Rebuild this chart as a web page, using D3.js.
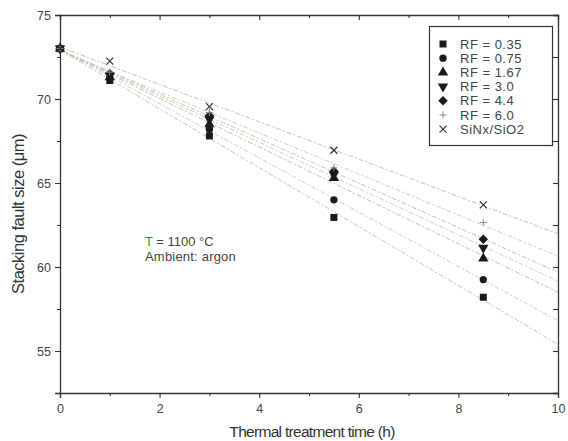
<!DOCTYPE html>
<html>
<head>
<meta charset="utf-8">
<script src="https://cdn.jsdelivr.net/npm/d3@7"></script>
<style>
  html, body { margin: 0; padding: 0; background: #fff; }
  svg { display: block; font-family: "Liberation Sans", Arial, sans-serif; }
</style>
</head>
<body>
<svg id="chart" width="568" height="441"></svg>
<script>
// Treatment times (h)
const times = [0, 1, 3, 5.5, 8.5];

// Stacking fault size (µm) per sample
const seriesNames = ["RF = 0.35", "RF = 0.75", "RF = 1.67", "RF = 3.0", "RF = 4.4", "RF = 6.0", "SiNx/SiO2"];
const rf035 = [73.0, 71.1, 67.8, 62.95, 58.2];
const rf075 = [73.0, 71.25, 68.2, 64.0, 59.25];
const rf167 = [73.0, 71.3, 68.5, 65.3, 60.5];
const rf30  = [73.0, 71.4, 68.8, 65.5, 61.15];
const rf44  = [73.0, 71.5, 69.0, 65.7, 61.65];
const rf60  = [73.0, 71.6, 69.2, 65.9, 62.65];
const sinx  = [73.0, 72.25, 69.55, 66.95, 63.7];

const xTicks = [0, 2, 4, 6, 8, 10];
const xMinor = [1, 3, 5, 7, 9];
const yTicks = [55, 60, 65, 70, 75];
const yMinor = [52.5, 57.5, 62.5, 67.5, 72.5];

const seriesValues = [rf035, rf075, rf167, rf30, rf44, rf60, sinx];
const symbolKinds = ["square", "circle", "triangle", "tridown", "diamond", "plus", "cross"];

const svg = d3.select("#chart");
const plotL = 60, plotR = 558, plotT = 15, plotB = 393;

const x = d3.scaleLinear().domain([0, 10]).range([plotL, plotR]);
const y = d3.scaleLinear().domain([52.5, 75]).range([plotB, plotT]);

const axisColor = "#333";
const textColor = "#444";

// Linear least-squares fit for each series, drawn across the full time range
function fit(ts, vs) {
  const mt = d3.mean(ts), mv = d3.mean(vs);
  let sxy = 0, sxx = 0;
  ts.forEach((t, i) => { sxy += (t - mt) * (vs[i] - mv); sxx += (t - mt) * (t - mt); });
  const b = sxy / sxx;
  return { a: mv - b * mt, b };
}

const fitG = svg.append("g");
seriesValues.forEach((vals, i) => {
  const f = fit(times, vals);
  fitG.append("line")
    .attr("x1", x(0)).attr("y1", y(f.a))
    .attr("x2", x(10)).attr("y2", y(f.a + 10 * f.b))
    .attr("stroke", i % 2 ? "#c4c9a6" : "#b4b8ab")
    .attr("stroke-width", 0.85)
    .attr("stroke-dasharray", "5,2,2,2");
});

// Axes (major + minor ticks on all four sides)
const gx = svg.append("g").attr("transform", `translate(0,${plotB})`)
  .call(d3.axisBottom(x).tickValues(xTicks).tickSize(5).tickPadding(6).tickFormat(d3.format("d")));
gx.append("g").attr("class", "minor").call(d3.axisBottom(x).tickValues(xMinor).tickSize(3).tickFormat(""));

const gy = svg.append("g").attr("transform", `translate(${plotL},0)`)
  .call(d3.axisLeft(y).tickValues(yTicks).tickSize(5).tickPadding(4).tickFormat(d3.format("d")));
gy.append("g").attr("class", "minor").call(d3.axisLeft(y).tickValues(yMinor).tickSize(3).tickFormat(""));

const gt = svg.append("g").attr("transform", `translate(0,${plotT})`)
  .call(d3.axisBottom(x).tickValues(xTicks).tickSize(5).tickFormat(""));
gt.append("g").attr("class", "minor").call(d3.axisBottom(x).tickValues(xMinor).tickSize(3).tickFormat(""));

const gr = svg.append("g").attr("transform", `translate(${plotR},0)`)
  .call(d3.axisLeft(y).tickValues(yTicks).tickSize(5).tickFormat(""));
gr.append("g").attr("class", "minor").call(d3.axisLeft(y).tickValues(yMinor).tickSize(5).tickFormat(""));

svg.selectAll("g.minor path.domain").remove();
[gx, gy, gt, gr].forEach(g => {
  g.selectAll("path.domain").attr("stroke", axisColor).attr("stroke-width", 1.3);
  g.selectAll(".tick line").attr("stroke", axisColor).attr("stroke-width", 1.1);
  g.selectAll(".tick text").attr("fill", textColor).attr("font-size", 12.5)
    .attr("font-family", "Liberation Sans, Arial, sans-serif");
});

// Symbols
function symbolPath(kind, s) {
  switch (kind) {
    case "square": return d3.symbol(d3.symbolSquare, s * s)();
    case "circle": return d3.symbol(d3.symbolCircle, Math.PI * (s / 2) * (s / 2) * 1.1)();
    case "triangle": return d3.symbol(d3.symbolTriangle, s * s * 0.95)();
    case "tridown": return d3.symbol(d3.symbolTriangle, s * s * 0.95)();
    case "diamond": {
      const r = s * 0.68;
      return `M0,${-r}L${r},0L0,${r}L${-r},0Z`;
    }
    case "plus": return `M${-s / 2},0H${s / 2}M0,${-s / 2}V${s / 2}`;
    case "cross": { const r = s * 0.5; return `M${-r},${-r}L${r},${r}M${-r},${r}L${r},${-r}`; }
  }
}
function drawSymbol(g, kind, cx, cy, s) {
  const p = g.append("path").attr("d", symbolPath(kind, s))
    .attr("transform", `translate(${cx},${cy})` + (kind === "tridown" ? " rotate(180)" : ""));
  if (kind === "plus") p.attr("fill", "none").attr("stroke", "#888").attr("stroke-width", 1);
  else if (kind === "cross") p.attr("fill", "none").attr("stroke", "#333").attr("stroke-width", 1.2);
  else p.attr("fill", "#1a1a1a");
  return p;
}

const markG = svg.append("g");
seriesValues.forEach((vals, i) => {
  vals.forEach((v, j) => drawSymbol(markG, symbolKinds[i], x(times[j]), y(v), 7));
});

// Legend
const lg = svg.append("g");
lg.append("rect").attr("x", 429.5).attr("y", 26.5).attr("width", 123).attr("height", 119)
  .attr("fill", "#fff").attr("stroke", axisColor).attr("stroke-width", 1.2);
seriesNames.forEach((name, i) => {
  const cy = 44 + i * 14.2;
  drawSymbol(lg, symbolKinds[i], 443, cy, 7);
  lg.append("text").attr("x", 460).attr("y", cy + 4.5)
    .attr("font-size", 13).attr("fill", textColor).attr("letter-spacing", 0.5)
    .text(name);
});

// Annotation
const note = svg.append("text").attr("x", 145).attr("y", 246).attr("font-size", 13).attr("fill", textColor);
note.append("tspan").attr("fill", "#2f8f3a").text("T");
note.append("tspan").text(" = 1100 °C");
svg.append("text").attr("x", 145).attr("y", 261).attr("font-size", 13).attr("fill", textColor)
  .attr("letter-spacing", 0.2)
  .text("Ambient: argon");

// Axis titles
svg.append("text")
  .attr("x", 312).attr("y", 437)
  .attr("text-anchor", "middle").attr("font-size", 15.5).attr("fill", "#333")
  .attr("letter-spacing", -0.7)
  .text("Thermal treatment time  (h)");

svg.append("text")
  .attr("transform", `translate(24,214) rotate(-90)`)
  .attr("text-anchor", "middle").attr("font-size", 16.5).attr("fill", "#333")
  .attr("letter-spacing", -0.5)
  .text("Stacking fault size  (μm)");
</script>
</body>
</html>
